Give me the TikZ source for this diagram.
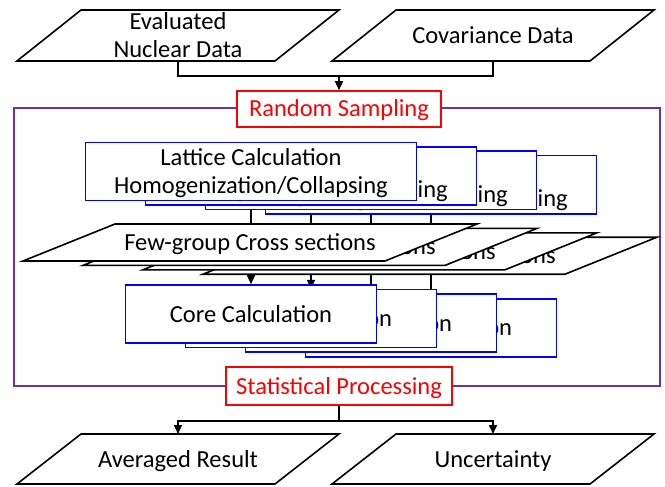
\documentclass[tikz,border=0pt]{standalone}
\usepackage{fontspec}
\setmainfont{Carlito}
\usetikzlibrary{arrows.meta,calc}
\definecolor{purp}{HTML}{7030A0}
\definecolor{bblue}{HTML}{0000FF}
\definecolor{rred}{HTML}{FF0000}
\pgfdeclarelayer{bg}
\pgfsetlayers{bg,main}
\tikzset{
  txt/.style={font=\fontsize{24.5}{28}\selectfont, align=center, inner sep=0pt, text height=16pt, text depth=0pt},
  twoline/.style={text height=44pt, text depth=0pt},
  pshape/.style={rectangle, draw=none, inner sep=0pt, outer sep=0pt},
  pline/.style={draw=black, line width=1.6pt, fill=white, line join=miter},
  lbox/.style={txt, twoline, draw=bblue, fill=white, line width=1.6pt, minimum width=331pt, minimum height=58pt},
  cbox/.style={txt, draw=bblue, fill=white, line width=1.6pt, minimum width=251pt, minimum height=58pt},
  rbox/.style={txt, draw=rred, text=rred, fill=white, line width=1.6pt},
  conn/.style={draw=black, line width=1.6pt},
  arr/.style={conn, -{Triangle[length=9pt,width=8pt]}},
}
% name, center, width, height, half slant, text options, text
\newcommand\parabox[7]{%
  \node[pshape, minimum width=#3, minimum height=#4] (#1) at #2 {};
  \draw[pline] ([xshift=-#5]#1.south west) -- ([xshift=#5]#1.north west) -- ([xshift=#5]#1.north east) -- ([xshift=-#5]#1.south east) -- cycle;
  \node[txt,#6] (#1-t) at (#1.center) {#7};
}
\begin{document}
\begin{tikzpicture}[x=1pt,y=-1pt]
\useasboundingbox (0,0) rectangle (665,487);
\begin{pgfonlayer}{bg}
\fill[white] (0,0) rectangle (665,487);
% container
\node[draw=purp, line width=1.6pt, minimum width=646pt, minimum height=278pt, inner sep=0pt] (frame) at (337,247) {};
\end{pgfonlayer}
% inputs
\parabox{ev}{(178,35.5)}{258pt}{51pt}{32pt}{twoline}{Evaluated\\Nuclear Data}
\parabox{cov}{(493,35.5)}{258pt}{51pt}{32pt}{}{Covariance Data}
\node[rbox, minimum width=204pt, minimum height=36pt] (rs) at (339,109) {Random Sampling};
\coordinate (j1) at ($(ev.south)+(0,15)$);
\draw[conn] (ev.south) -- (j1) -| (cov.south);
\draw[arr] (rs.north |- j1) -- (rs.north);
% lattice stack
\foreach \k in {3,2,1,0} {
  \node[lbox] (L\k) at ({251+60*\k},{171.5+4.4*\k}) {Lattice Calculation\\Homogenization/Collapsing};
}
% cross sections stack
\foreach \k in {3,2,1,0} {
  \parabox{X\k}{({250+60*\k},{242.5+4.4*\k})}{362pt}{37pt}{46pt}{}{Few-group Cross sections}
}
% core stack
\foreach \k in {3,2,1,0} {
  \node[cbox] (C\k) at ({251+60*\k},{314+4.6*\k}) {Core Calculation};
}
\begin{pgfonlayer}{bg}
\foreach \k in {0,1,2,3} {
  \draw[arr] (L\k.south) -- (C\k.north);
}
\end{pgfonlayer}
% outputs
\node[rbox, minimum width=226pt, minimum height=38pt] (sp) at (339,386) {Statistical Processing};
\parabox{av}{(178,459)}{258pt}{50pt}{32pt}{}{Averaged Result}
\parabox{un}{(493,459)}{258pt}{50pt}{32pt}{}{Uncertainty}
\coordinate (j2) at ($(sp.south)+(0,15)$);
\draw[conn] (sp.south) -- (j2);
\draw[arr] (j2) -| (av.north);
\draw[arr] (j2) -| (un.north);
\end{tikzpicture}
\end{document}
